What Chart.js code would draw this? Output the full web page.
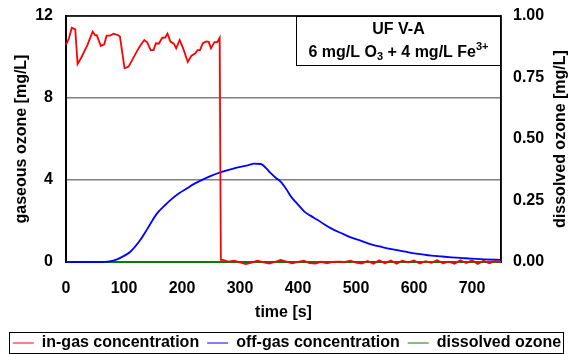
<!DOCTYPE html>
<html>
<head>
<meta charset="utf-8">
<script src="https://cdn.jsdelivr.net/npm/chart.js@4.4.1/dist/chart.umd.min.js"></script>
<style>
  html, body { margin: 0; padding: 0; background: #fff; }
  #wrap { width: 574px; height: 354px; }
</style>
</head>
<body>
<div id="wrap"><canvas id="c" width="574" height="354"></canvas></div>
<script>
// UF V-A ozonation run — gaseous and dissolved ozone over time.
const FONT = "'Liberation Sans', Arial, sans-serif";

const inGasTime = [0, 5, 10, 16, 20, 27, 37, 46, 50, 53, 60, 66, 70, 76, 82, 90, 93, 101, 108, 115, 122, 128, 135, 140,
  146, 151, 155, 160, 166, 171, 175, 180, 186, 190, 196, 202, 210, 216, 223, 227, 231, 236, 242, 246, 250, 256, 261, 265,
  267, 270, 280, 290, 300, 310, 320, 330, 340, 350, 360, 370, 380, 390, 400, 410, 420, 430, 440, 450, 460, 470, 480, 490,
  500, 510, 520, 530, 540, 550, 560, 570, 580, 590, 600, 610, 620, 630, 640, 650, 660, 670, 680, 690, 700, 710, 720, 730,
  740, 750];
const inGas = [10.59, 10.9, 11.43, 11.35, 9.66, 10.0, 10.59, 11.24, 11.07, 11.07, 10.54, 10.62, 11.04, 11.04, 11.14, 11.06,
  11.0, 9.45, 9.53, 9.9, 10.26, 10.55, 10.83, 10.72, 10.34, 10.34, 10.67, 10.65, 10.94, 10.95, 11.14, 10.75, 10.65, 10.42,
  10.83, 10.42, 9.76, 10.05, 10.18, 10.34, 10.34, 10.67, 10.76, 10.74, 10.42, 10.73, 10.73, 10.94,
  0.1, 0.1, 0.02, 0.06, -0.02, -0.1, -0.03, 0.06, -0.01, -0.08, 0.0, 0.1, 0.02, -0.07, 0.01, 0.06, -0.05, -0.08, 0.01,
  -0.07, 0.0, 0.02, 0.0, 0.07, -0.03, -0.08, 0.05, -0.09, 0.08, -0.06, 0.07, -0.08, 0.06, -0.02, 0.08, -0.07, 0.04, -0.04,
  0.09, -0.06, 0.02, -0.08, 0.09, -0.05, 0.08, -0.09, 0.06, -0.06, 0.05, -0.02];

const offGasTime = [0, 30, 60, 75, 88, 100, 111, 128, 142, 157, 170, 180, 195, 209, 220, 232, 250, 266, 290, 307, 316,
  324, 336, 345, 353, 362, 370, 380, 388, 400, 411, 422, 434, 445, 457, 475, 491, 510, 526, 545, 561, 580, 595, 612, 630,
  647, 664, 680, 699, 720, 750];
const offGas = [0, 0, 0, 0.03, 0.13, 0.3, 0.5, 1.07, 1.7, 2.37, 2.75, 3.02, 3.35, 3.6, 3.8, 3.97, 4.2, 4.37, 4.57, 4.68,
  4.74, 4.8, 4.78, 4.58, 4.33, 4.1, 3.92, 3.55, 3.19, 2.8, 2.46, 2.25, 2.05, 1.84, 1.64, 1.4, 1.2, 1.02, 0.86, 0.73, 0.63,
  0.53, 0.45, 0.38, 0.31, 0.27, 0.23, 0.2, 0.16, 0.13, 0.1];

const dissolvedTime = [0, 750];
const dissolved = [0, 0];

const pts = (xs, ys) => xs.map((x, i) => ({ x, y: ys[i] }));

// frame round the plot, right-hand title (reads bottom-up) and the run label box
const extras = {
  id: "extras",
  beforeDatasetsDraw(chart) {
    const { ctx, chartArea: a } = chart;
    ctx.save();
    ctx.strokeStyle = "#000";
    ctx.lineWidth = 1.5;
    ctx.strokeRect(a.left, a.top, a.right - a.left, a.bottom - a.top);
    ctx.restore();
  },
  afterDatasetsDraw(chart) {
    const { ctx, chartArea: a } = chart;
    ctx.save();
    ctx.translate(561, (a.top + a.bottom) / 2);
    ctx.rotate(-Math.PI / 2);
    ctx.fillStyle = "#000";
    ctx.font = `bold 16px ${FONT}`;
    ctx.textAlign = "center";
    ctx.textBaseline = "middle";
    ctx.fillText("dissolved ozone [mg/L]", 0, 0);
    ctx.restore();

    const x0 = 296, y0 = a.top, x1 = a.right, y1 = 65;
    ctx.save();
    ctx.fillStyle = "#fff";
    ctx.fillRect(x0, y0, x1 - x0, y1 - y0);
    ctx.strokeStyle = "#000";
    ctx.lineWidth = 1;
    ctx.strokeRect(x0 + 0.5, y0 + 0.5, x1 - x0 - 1, y1 - y0);
    ctx.fillStyle = "#000";
    ctx.textBaseline = "middle";
    ctx.textAlign = "center";
    ctx.font = `bold 16px ${FONT}`;
    const cx = (x0 + x1) / 2;
    ctx.fillText("UF V-A", cx, 30);
    const parts = [
      ["6 mg/L O", 16, 0], ["3", 11, 4], [" + 4 mg/L Fe", 16, 0], ["3+", 11, -6],
    ];
    let w = 0;
    parts.forEach(([t, s]) => { ctx.font = `bold ${s}px ${FONT}`; w += ctx.measureText(t).width; });
    let x = cx - w / 2;
    ctx.textAlign = "left";
    parts.forEach(([t, s, dy]) => {
      ctx.font = `bold ${s}px ${FONT}`;
      ctx.fillText(t, x, 53 + dy);
      x += ctx.measureText(t).width;
    });
    ctx.restore();
  },
  afterDraw(chart) {
    const lg = chart.legend;
    if (!lg || !lg.legendHitBoxes || !lg.legendHitBoxes.length) return;
    const hb = lg.legendHitBoxes;
    const l = Math.min(...hb.map((h) => h.left)), r = Math.max(...hb.map((h) => h.left + h.width));
    const cy = hb[0].top + hb[0].height / 2;
    const { ctx } = chart;
    ctx.save();
    ctx.strokeStyle = "#000";
    ctx.lineWidth = 1;
    ctx.strokeRect(Math.round(l - 4) + 0.5, Math.round(cy - 11) + 0.5, Math.round(r - l + 6), 21);
    ctx.restore();
  },
};

const tickFont = { family: FONT, size: 16, weight: "bold" };

new Chart(document.getElementById("c"), {
  type: "line",
  data: {
    datasets: [
      { label: "in-gas concentration", data: pts(inGasTime, inGas), borderColor: "#ff0000", backgroundColor: "#ff0000", yAxisID: "y", clip: 6 },
      { label: "off-gas concentration", data: pts(offGasTime, offGas), borderColor: "#0000ff", backgroundColor: "#0000ff", yAxisID: "y",
        cubicInterpolationMode: "monotone", clip: 6 },
      { label: "dissolved ozone", data: pts(dissolvedTime, dissolved), borderColor: "#008000", backgroundColor: "#008000", yAxisID: "y1", clip: 6 },
    ],
  },
  options: {
    responsive: false, animation: false,
    layout: { padding: { top: 16, left: 0, right: 0, bottom: 0 } },
    elements: { point: { radius: 0 }, line: { borderWidth: 1.8, tension: 0 } },
    plugins: {
      tooltip: { enabled: false },
      legend: {
        position: "bottom", maxHeight: 27,
        labels: { usePointStyle: true, pointStyle: "line", pointStyleWidth: 21, padding: 8, color: "#000", font: tickFont },
      },
    },
    scales: {
      x: {
        type: "linear", min: 0, max: 750,
        ticks: { stepSize: 100, includeBounds: false, padding: 9, color: "#000", font: tickFont, maxRotation: 0 },
        grid: { display: false },
        border: { color: "#000", width: 2 },
        title: { display: true, text: "time [s]", color: "#000", font: tickFont, padding: { top: 0, bottom: 5 } },
        afterFit(s) { s.height = s.chart.height - 262 - s.chart.legend.height; },
      },
      y: {
        position: "left", min: 0, max: 12,
        ticks: { stepSize: 4, padding: 13, color: "#000", font: tickFont },
        grid: { color: "#808080", lineWidth: 1.5, drawTicks: false },
        border: { color: "#000", width: 2 },
        title: { display: true, text: "gaseous ozone [mg/L]", color: "#000", font: tickFont, padding: { top: 12, bottom: 0 } },
        afterFit(s) { s.width = 66; s.paddingTop = 0; s.paddingBottom = 0; },
      },
      y1: {
        position: "right", min: 0, max: 1,
        ticks: { stepSize: 0.25, padding: 12, color: "#000", font: tickFont, callback: (v) => v.toFixed(2) },
        grid: { display: false, drawTicks: false },
        border: { color: "#000", width: 1.5 },
        afterFit(s) { s.width = 73; s.paddingTop = 0; s.paddingBottom = 0; },
      },
    },
  },
  plugins: [extras],
});
</script>
</body>
</html>
